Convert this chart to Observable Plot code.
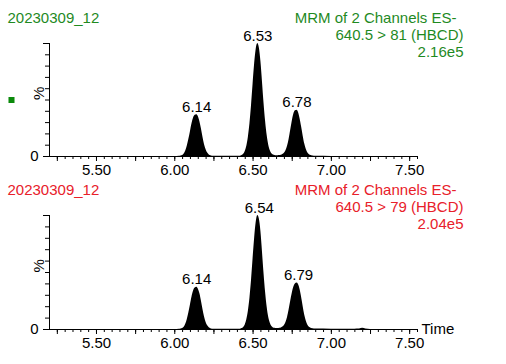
<!DOCTYPE html>
<html><head><meta charset="utf-8">
<script src="https://cdn.jsdelivr.net/npm/d3@7"></script>
<script src="https://cdn.jsdelivr.net/npm/@observablehq/plot@0.6"></script>
<style>
body{margin:0;background:#fff;width:506px;height:364px;overflow:hidden}
#chart svg{display:block}
</style></head><body><div id="chart"></div>
<script>
const sampleId = "20230309_12";
const method = "MRM of 2 Channels ES-";
const channels = ["640.5 > 81 (HBCD)", "640.5 > 79 (HBCD)"];
const intensities = ["2.16e5", "2.04e5"];
const headerColors = ["#1f8a1f", "#e8202a"];
const markerColor = "#0b8a0b";

const time = [5.20, 5.60, 6.00, 6.03,
  6.04, 6.05, 6.06, 6.07, 6.08, 6.09, 6.10, 6.11, 6.12, 6.13, 6.14, 6.15, 6.16, 6.17, 6.18, 6.19, 6.20, 6.21, 6.22, 6.23, 6.24,
  6.25, 6.30, 6.35, 6.41,
  6.42, 6.43, 6.44, 6.45, 6.46, 6.47, 6.48, 6.49, 6.50, 6.51, 6.52, 6.53, 6.54, 6.55, 6.56, 6.57, 6.58, 6.59, 6.60, 6.61, 6.62, 6.63, 6.64, 6.65, 6.66, 6.67,
  6.68, 6.69, 6.70, 6.71, 6.72, 6.73, 6.74, 6.75, 6.76, 6.77, 6.78, 6.79, 6.80, 6.81, 6.82, 6.83, 6.84, 6.85, 6.86, 6.87, 6.88, 6.89, 6.90,
  7.00, 7.10, 7.15, 7.18, 7.20, 7.22, 7.25, 7.40, 7.55];

// % of channel maximum, channel 640.5 > 81
const pct81 = [0, 0, 0, 0.2,
  0.4, 0.9, 2.2, 4.9, 9.2, 15.2, 22, 29, 34, 36.5, 37, 35.5, 31, 24.5, 17, 10.5, 6, 3, 1.4, 0.6, 0.3,
  0.2, 0.2, 0.2, 0.2,
  0.3, 0.8, 1.9, 4.4, 9, 17, 29, 45, 64, 82, 95, 100, 96, 84, 66, 47, 31, 18.5, 10, 5, 2.4, 1.3, 0.9, 0.7, 0.7, 0.8,
  1.1, 1.7, 2.9, 5, 9, 15, 23, 31, 37.5, 40.5, 41, 39, 33.5, 26, 18, 11, 6.2, 3.2, 1.6, 0.8, 0.4, 0.3, 0.2,
  0.1, 0.1, 0.1, 0.1, 0.1, 0.1, 0, 0, 0];

// % of channel maximum, channel 640.5 > 79
const pct79 = [0, 0, 0, 0.2,
  0.4, 0.9, 2.0, 4.5, 8.8, 14.8, 21.5, 28.5, 33.8, 36.5, 37, 35.5, 31.5, 25, 17.5, 11, 6.2, 3.2, 1.5, 0.7, 0.3,
  0.2, 0.2, 0.2, 0.2,
  0.3, 0.8, 1.8, 4.0, 8.5, 16, 27.5, 43, 62, 80, 94, 100, 97, 86, 68, 49, 32.5, 19.5, 10.5, 5.5, 2.6, 1.4, 1.0, 0.8, 0.8, 1.0,
  1.4, 2.2, 3.6, 6.2, 10.5, 17, 24.5, 31.5, 37, 40, 40.8, 39.5, 35, 28, 20, 12.5, 7.2, 3.8, 2.0, 1.1, 0.6, 0.5, 0.4,
  0.3, 0.3, 0.3, 0.4, 1.0, 0.4, 0.1, 0, 0];

const peakTimes81 = [6.14, 6.53, 6.78];
const peakHeights81 = [37, 100, 41];
const peakTimes79 = [6.14, 6.54, 6.79];
const peakHeights79 = [37, 100, 41];

const xDomain = [5.20, 7.55];
const xLabelTicks = [5.5, 6.0, 6.5, 7.0, 7.5];
const xTickLabels = ["5.50", "6.00", "6.50", "7.00", "7.50"];
const xMidTicks = [5.25, 5.5, 5.75, 6.0, 6.25, 6.5, 6.75, 7.0, 7.25, 7.5];
const xMinorTicks = d3.range(105, 152).map(k => k / 20);
const yTicks = [0, 10, 20, 30, 40, 50, 60, 70, 80, 90, 100];

function panel({values, peakT, peakH, channel, intensity, color, height, marginTop, marginBottom, marker, timeLabel}) {
  const data = time.map((t, i) => ({t, v: values[i]}));
  const peaks = peakT.map((t, i) => ({t, v: peakH[i], label: t.toFixed(2)}));
  const noText = () => "";
  const marks = [
    Plot.areaY(data, {x: "t", y: "v", fill: "black", curve: "monotone-x"}),
    Plot.ruleY([0], {stroke: "black"}),
    Plot.ruleX([xDomain[0]], {stroke: "black"}),
    Plot.axisX({ticks: xMinorTicks, tickSize: 3, tickFormat: noText, label: null}),
    Plot.axisX({ticks: xMidTicks, tickSize: 5, tickFormat: noText, label: null}),
    Plot.axisX({ticks: xLabelTicks, tickSize: 0, tickPadding: 8, tickFormat: d => xTickLabels[xLabelTicks.indexOf(d)], label: null}),
    Plot.axisY({ticks: yTicks, tickSize: 4, tickFormat: noText, label: null}),
    Plot.axisY({ticks: [0, 100], tickSize: 6, tickFormat: noText, label: null}),
    Plot.axisY({ticks: [0], tickSize: 0, tickPadding: 11, tickFormat: () => "0", label: null}),
    Plot.text(["%"], {text: d => d, frameAnchor: "left", rotate: -90, dx: -10, fill: "black"}),
    Plot.text(peaks, {x: "t", y: "v", text: "label", lineAnchor: "bottom", dy: -3, fill: "black"}),
    Plot.text([sampleId], {text: d => d, frameAnchor: "top-left", textAnchor: "start", lineAnchor: "bottom", dx: -42, dy: -21, fill: color}),
    Plot.text([method], {text: d => d, frameAnchor: "top-right", textAnchor: "end", lineAnchor: "bottom", dx: 39, dy: -21, fill: color}),
    Plot.text([channel], {text: d => d, frameAnchor: "top-right", textAnchor: "end", lineAnchor: "bottom", dx: 46, dy: -4, fill: color}),
    Plot.text([intensity], {text: d => d, frameAnchor: "top-right", textAnchor: "end", lineAnchor: "bottom", dx: 46, dy: 13, fill: color})
  ];
  if (marker) marks.push(Plot.dot([0], {frameAnchor: "left", dx: -38, symbol: "square", r: 3.4, fill: markerColor, stroke: "none"}));
  if (timeLabel) marks.push(Plot.text(["Time"], {text: d => d, frameAnchor: "bottom-right", textAnchor: "start", lineAnchor: "middle", dx: 4, fill: "black"}));
  return Plot.plot({
    width: 506, height, marginLeft: 49, marginRight: 89, marginTop, marginBottom,
    style: {fontFamily: "'Liberation Sans', Arial, sans-serif", fontSize: "15px", color: "black", background: "white", overflow: "visible"},
    x: {domain: xDomain, axis: null},
    y: {domain: [0, 100], axis: null},
    marks
  });
}

const chart = document.getElementById("chart");
chart.appendChild(panel({values: pct81, peakT: peakTimes81, peakH: peakHeights81, channel: channels[0], intensity: intensities[0], color: headerColors[0], height: 178, marginTop: 43, marginBottom: 22, marker: true, timeLabel: false}));
chart.appendChild(panel({values: pct79, peakT: peakTimes79, peakH: peakHeights79, channel: channels[1], intensity: intensities[1], color: headerColors[1], height: 186, marginTop: 37, marginBottom: 35, marker: false, timeLabel: true}));
</script></body></html>
